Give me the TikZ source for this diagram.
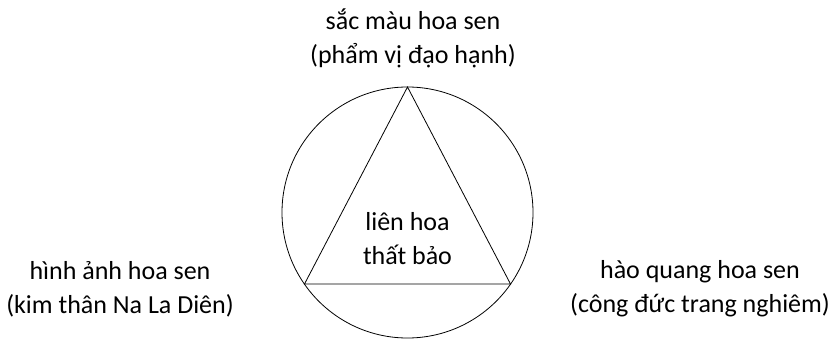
\documentclass[tikz,border=0pt]{standalone}
\usepackage{fontspec}
\setmainfont{Carlito}
\begin{document}
\begin{tikzpicture}[x=1pt,y=-1pt,
  lbl/.style={align=center,font=\fontsize{26}{34}\selectfont,inner sep=0pt},
  shape line/.style={draw=black,line width=0.8pt}]
\useasboundingbox (0,0) rectangle (839,339);
\coordinate (c) at (407.5,212.5);
\draw[shape line] (c) circle[radius=125.5];
\coordinate (t) at (407.5,87);
\coordinate (bl) at (304.5,284);
\coordinate (br) at (510.5,284);
\draw[shape line] (t) -- (bl) -- (br) -- cycle;
\node[lbl] (center) at (407.5,239) {liên hoa\\thất bảo};
\node[lbl] (top) at (413,38) {sắc màu hoa sen\\(phẩm vị đạo hạnh)};
\node[lbl] (left) at (120,289) {hình ảnh hoa sen\\(kim thân Na La Diên)};
\node[lbl] (right) at (700,289) {hào quang hoa sen\\(công đức trang nghiêm)};
\end{tikzpicture}
\end{document}
